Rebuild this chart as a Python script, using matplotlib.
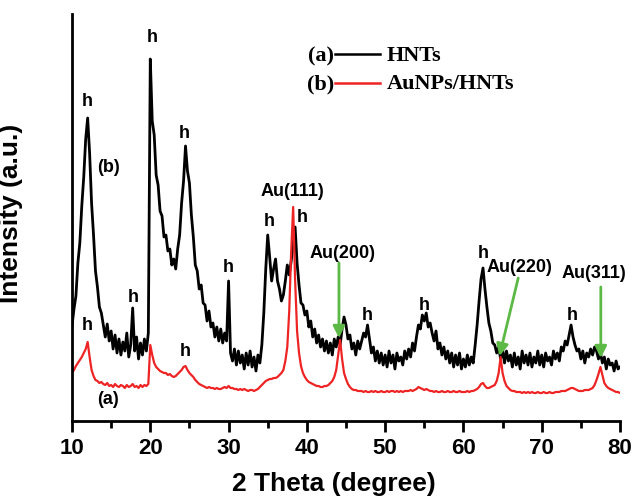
import numpy as np
import matplotlib
matplotlib.use('Agg')
from matplotlib import pyplot as plt

plt.rcParams['font.family'] = ['Liberation Sans', 'DejaVu Sans']
plt.rcParams['font.weight'] = 'bold'

# 2 theta grid, 0.25 degree steps from 10 to 80
two_theta = np.linspace(10, 80, 281)

# (b) AuNPs/HNTs, black trace (arbitrary units)
b_counts = [
    95, 112, 125, 158, 178, 215, 244, 282, 303, 268, 218, 186,
    150, 134, 114, 108, 96, 84, 97, 80, 90, 72, 86, 68,
    82, 66, 79, 70, 88, 64, 76, 113, 70, 84, 62, 78,
    66, 82, 70, 88, 362, 300, 286, 246, 236, 210, 205, 184,
    186, 170, 172, 156, 162, 152, 172, 186, 218, 240, 275, 250,
    238, 206, 184, 156, 150, 132, 136, 118, 116, 100, 110, 94,
    98, 84, 94, 80, 92, 78, 88, 80, 140, 68, 60, 72,
    56, 70, 58, 66, 52, 68, 56, 70, 54, 64, 50, 66,
    58, 76, 108, 152, 186, 164, 140, 152, 162, 140, 132, 120,
    126, 140, 156, 146, 160, 178, 194, 158, 136, 118, 116, 106,
    110, 94, 100, 84, 92, 78, 86, 74, 82, 70, 80, 68,
    78, 66, 82, 74, 84, 76, 92, 104, 96, 82, 86, 72,
    78, 66, 80, 72, 80, 88, 84, 96, 82, 68, 74, 60,
    70, 58, 68, 56, 66, 54, 70, 58, 66, 52, 68, 60,
    64, 56, 70, 62, 72, 64, 78, 70, 84, 96, 92, 106,
    100, 108, 94, 98, 88, 80, 90, 72, 78, 66, 74, 62,
    70, 58, 68, 54, 66, 56, 68, 52, 62, 54, 66, 56,
    64, 58, 76, 96, 120, 142, 153, 132, 114, 98, 90, 78,
    76, 68, 74, 62, 72, 58, 70, 60, 66, 54, 68, 56,
    64, 52, 70, 58, 66, 56, 68, 54, 64, 58, 70, 56,
    66, 54, 68, 60, 64, 56, 70, 62, 68, 60, 74, 70,
    80, 76, 86, 96, 84, 76, 70, 72, 62, 70, 58, 68,
    64, 72, 66, 74, 70, 62, 68, 58, 64, 52, 62, 56,
    58, 50, 60, 52, 54,
]

# (a) HNTs, red trace
a_counts = [
    48, 51, 55, 58, 61, 64, 68, 72, 79, 64, 51, 45,
    41, 40, 38, 39, 37, 36, 38, 35, 36, 34, 37, 35,
    34, 36, 35, 33, 36, 34, 35, 37, 34, 35, 33, 36,
    34, 36, 35, 37, 76, 66, 58, 54, 52, 50, 49, 48,
    48, 46, 47, 45, 44, 45, 47, 49, 51, 54, 55, 51,
    48, 46, 44, 41, 39, 37, 36, 35, 34, 33, 34, 33,
    33, 32, 33, 32, 32, 33, 34, 33, 35, 33, 33, 32,
    32, 31, 32, 31, 32, 31, 30, 31, 31, 30, 31, 32,
    34, 36, 38, 40, 41, 42, 42, 43, 43, 44, 46, 48,
    51, 60, 74, 110, 170, 214, 141, 90, 68, 55, 48, 44,
    41, 39, 38, 37, 36, 35, 35, 34, 34, 35, 35, 36,
    38, 40, 44, 51, 66, 81, 62, 48, 42, 37, 34, 32,
    31, 31, 30, 30, 30, 29, 30, 29, 29, 30, 29, 30,
    29, 29, 30, 29, 29, 30, 29, 30, 30, 29, 30, 29,
    30, 29, 30, 30, 30, 31, 30, 31, 32, 34, 33, 32,
    31, 32, 31, 30, 30, 29, 30, 29, 29, 30, 29, 29,
    30, 29, 29, 30, 29, 29, 30, 29, 29, 29, 30, 29,
    30, 30, 31, 32, 34, 37, 38, 35, 33, 33, 34, 35,
    36, 40, 48, 64, 48, 40, 35, 33, 31, 30, 30, 29,
    29, 29, 28, 29, 28, 29, 28, 29, 28, 28, 29, 28,
    28, 29, 28, 28, 29, 28, 28, 29, 29, 29, 30, 30,
    30, 31, 32, 33, 33, 32, 31, 30, 30, 30, 31, 31,
    31, 32, 33, 36, 41, 47, 54, 46, 38, 35, 33, 32,
    31, 30, 29, 29, 28,
]

# peak labels: (2theta, height)
h_labels_b = [(12.0, 320), (20.2, 383), (24.4, 288), (17.8, 124), (30.0, 153),
              (35.2, 199), (39.4, 203), (47.7, 106), (54.95, 116), (62.5, 168),
              (73.9, 106)]
h_labels_a = [(12.0, 96), (24.5, 69)]
au_peaks = ['Au(111)', 'Au(200)', 'Au(220)', 'Au(311)']

fig = plt.figure(figsize=(6.33, 4.96), dpi=100)
ax = fig.add_axes([72 / 633, 1 - 421 / 496, 548 / 633, 407 / 496])

ax.plot(two_theta, b_counts, color='black', lw=2.0)
ax.plot(two_theta, a_counts, color='#ee2424', lw=1.6)

ax.set_xlim(10, 80)
ax.set_ylim(0, 407)
ax.set_xticks(range(10, 81, 10))
ax.set_xticks(range(15, 80, 10), minor=True)
ax.set_yticks([])
for side in ['top', 'right']:
    ax.spines[side].set_visible(False)
for side in ['left', 'bottom']:
    ax.spines[side].set_linewidth(2)
ax.tick_params(axis='x', which='major', length=8, width=2, labelsize=16, pad=4)
ax.tick_params(axis='x', which='minor', length=5, width=2)
for lab in ax.get_xticklabels():
    lab.set_fontweight('bold')

ax.set_xlabel('2 Theta (degree)', fontsize=19, fontweight='bold')
ax.xaxis.set_label_coords(0.477, -0.125)
ax.set_ylabel('Intensity (a.u.)', fontsize=19, fontweight='bold')
ax.yaxis.set_label_coords(-0.09, 0.51)

lab_kw = dict(fontsize=13, fontweight='bold', ha='center', va='center')
for x, y in h_labels_b + h_labels_a:
    ax.text(x, y, 'h', **lab_kw)
ax.text(14.6, 254, '(b)', **lab_kw)
ax.text(14.6, 22, '(a)', **lab_kw)

green = '#5cb946'
ax.text(38.1, 229, au_peaks[0], **lab_kw)
ax.text(44.6, 168, au_peaks[1], **lab_kw)
ax.text(67.2, 154, au_peaks[2], **lab_kw)
ax.text(76.7, 148, au_peaks[3], **lab_kw)
arrows = [((44.1, 158), (44.1, 83)),
          ((67.0, 143), (64.6, 65)),
          ((77.55, 134), (77.55, 63))]
for start, end in arrows:
    ax.annotate('', xy=end, xytext=start,
                arrowprops=dict(arrowstyle='-|>,head_length=0.7,head_width=0.35',
                                color=green, lw=2, shrinkA=0, shrinkB=0))

# hand-drawn legend in serif bold
ser = dict(family=['Liberation Serif', 'DejaVu Serif'], fontsize=16,
           fontweight='bold', va='center')
fig.text(334 / 633, 1 - 56 / 496, '(a)', ha='right', **ser)
fig.text(387 / 633, 1 - 56 / 496, 'HNTs', ha='left', **ser)
fig.text(334 / 633, 1 - 84 / 496, '(b)', ha='right', **ser)
fig.text(387 / 633, 1 - 84 / 496, 'AuNPs/HNTs', ha='left', **ser)
fig.add_artist(plt.Line2D([335 / 633, 380 / 633], [1 - 54 / 496] * 2,
                          color='black', lw=1.8))
fig.add_artist(plt.Line2D([335 / 633, 380 / 633], [1 - 83 / 496] * 2,
                          color='#ee2424', lw=1.8))

fig.savefig('out.png', dpi=100)
